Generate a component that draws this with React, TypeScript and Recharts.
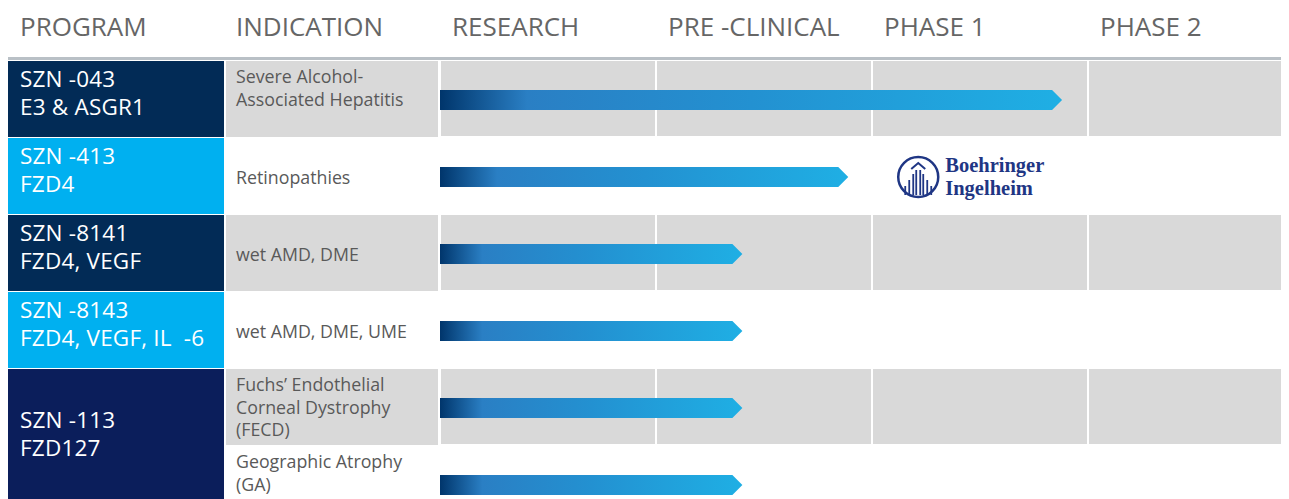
import { BarChart, Bar, XAxis, YAxis, Cell } from 'recharts'

const stages = ['RESEARCH', 'PRE -CLINICAL', 'PHASE 1', 'PHASE 2']
const stageSpan = [1, 1, 1, 1]
const programCodes = ['SZN -043', 'SZN -413', 'SZN -8141', 'SZN -8143', 'SZN -113', '']
const programTargets = ['E3 & ASGR1', 'FZD4', 'FZD4, VEGF', 'FZD4, VEGF, IL  -6', 'FZD127', '']
const programRowSpan = [1, 1, 1, 1, 2, 0]
const indications = [
  'Severe Alcohol-\nAssociated Hepatitis',
  'Retinopathies',
  'wet AMD, DME',
  'wet AMD, DME, UME',
  'Fuchs\u2019 Endothelial\nCorneal Dystrophy\n(FECD)',
  'Geographic Atrophy\n(GA)',
]
const progress = [2.88, 1.89, 1.4, 1.4, 1.4, 1.4]
const partners = ['', 'Boehringer Ingelheim', '', '', '', '']

// styling
const GRAY = '#d9d9d9'
const PROGRAM_FILL = ['#022b56', '#00b0f0', '#022b56', '#00b0f0', '#0b1e5b', '']
const BAND = 77
const FONT = '"Open Sans", sans-serif'

const data = indications.map((indication, i) => ({
  indication,
  s1: stageSpan[0],
  s2: stageSpan[1],
  s3: stageSpan[2],
  s4: stageSpan[3],
  progress: progress[i],
  partner: partners[i],
}))

function HeaderTick(props: any) {
  const { x, payload } = props
  return (
    <g>
      {payload.index === 0 && (
        <g>
          <line x1={0} x2={1296} y1={50.5} y2={50.5} stroke="#b9c0c6" strokeWidth={3} />
          <text x={12} y={18} fontSize={26} fill="#666" fontFamily={FONT} dominantBaseline="central">PROGRAM</text>
          <text x={228} y={18} fontSize={26} fill="#666" fontFamily={FONT} dominantBaseline="central">INDICATION</text>
        </g>
      )}
      <text x={x + 12} y={18} fontSize={26} fill="#666" fontFamily={FONT} dominantBaseline="central">
        {stages[payload.index]}
      </text>
    </g>
  )
}

function RowTick(props: any) {
  const { y, payload } = props
  const i = payload.index
  const top = y - BAND / 2
  const span = programRowSpan[i]
  const lines = indications[i].split('\n')
  const lh = 22.5
  const firstY = lines.length === 1 ? y : top + 15
  const boxH = span * BAND - 1
  const progLines = [programCodes[i], programTargets[i]]
  const progFirst = span === 1 ? top + 16.5 : top + 50
  return (
    <g>
      <rect x={218} y={top} width={212} height={BAND - 1} fill={i % 2 === 0 ? GRAY : '#fff'} />
      {span > 0 && (
        <g>
          <rect x={0} y={top} width={216} height={boxH} fill={PROGRAM_FILL[i]} />
          <text fontSize={22.5} letterSpacing={0.2} fill="#fff" fontFamily={FONT} dominantBaseline="central" style={{ whiteSpace: 'pre' }}>
            {progLines.map((t, k) => (
              <tspan key={k} x={12} y={progFirst + k * 28}>{t}</tspan>
            ))}
          </text>
        </g>
      )}
      <text fontSize={17.8} fill="#595959" fontFamily={FONT} dominantBaseline="central">
        {lines.map((t, k) => (
          <tspan key={k} x={228} y={firstY + k * lh}>{t}</tspan>
        ))}
      </text>
    </g>
  )
}

function Logo({ cx, cy, name }: { cx: number; cy: number; name: string }) {
  const [a, b] = name.split(' ')
  const c = '#1f3684'
  const bars = [
    { dx: -13, top: 9 }, { dx: -9, top: 3 }, { dx: -5, top: -3 },
    { dx: -2, top: -7 }, { dx: 2, top: -7 },
    { dx: 5, top: -3 }, { dx: 9, top: 3 }, { dx: 13, top: 9 },
  ]
  return (
    <g>
      <circle cx={cx} cy={cy} r={20} fill="none" stroke={c} strokeWidth={2.5} />
      <path d={`M ${cx - 7} ${cy - 8} L ${cx} ${cy - 14} L ${cx + 7} ${cy - 8}`} fill="none" stroke={c} strokeWidth={2} />
      {bars.map((bb, k) => (
        <line key={k} x1={cx + bb.dx} x2={cx + bb.dx} y1={cy + bb.top} y2={cy + 18} stroke={c} strokeWidth={1.8} />
      ))}
      <text fontSize={20.5} fontWeight="bold" fill={c} fontFamily='"Liberation Serif", serif' dominantBaseline="central">
        <tspan x={cx + 27} y={cy - 12}>{a}</tspan>
        <tspan x={cx + 27} y={cy + 11}>{b}</tspan>
      </text>
    </g>
  )
}

function ArrowBar(props: any) {
  const { x, y, width, height, index, payload } = props
  const tip = 10
  const id = `prog-grad-${index}`
  const d = `M ${x} ${y} H ${x + width - tip} L ${x + width} ${y + height / 2} L ${x + width - tip} ${y + height} H ${x} Z`
  return (
    <g>
      <defs>
        <linearGradient id={id} x1="0" y1="0" x2="1" y2="0">
          <stop offset="0" stopColor="#00356b" />
          <stop offset="0.14" stopColor="#2a7fc4" />
          <stop offset="0.5" stopColor="#2391d1" />
          <stop offset="1" stopColor="#1fafe4" />
        </linearGradient>
      </defs>
      <path d={d} fill={`url(#${id})`} />
      {payload && payload.partner && (
        <Logo cx={x + width + 70} cy={y + height / 2} name={payload.partner} />
      )}
    </g>
  )
}

// one stage cell of a row, white gap on its left and right
function StageCell(props: any) {
  const { x, y, width, height, fill } = props
  return <rect x={x + 1} y={y} width={Math.max(0, width - 2)} height={height - 1.5} fill={fill} />
}

export default function App() {
  return (
    <div style={{ width: 1281, height: 491, overflow: 'hidden', fontFamily: FONT }}>
      <BarChart
        width={1296}
        height={53 + BAND * indications.length}
        data={data}
        layout="vertical"
        barCategoryGap={0}
        barGap={0}
        margin={{ top: 0, right: 0, bottom: 0, left: 0 }}
      >
        <XAxis
          type="number"
          orientation="top"
          domain={[0, 4]}
          ticks={[0, 1, 2, 3]}
          height={53}
          axisLine={false}
          tickLine={false}
          tick={(p: any) => <HeaderTick {...p} />}
        />
        <YAxis
          yAxisId="main"
          type="category"
          dataKey="indication"
          width={432}
          axisLine={false}
          tickLine={false}
          interval={0}
          tick={(p: any) => <RowTick {...p} />}
        />
        <YAxis yAxisId="bg" type="category" dataKey="indication" width={0} hide />
        {['s1', 's2', 's3', 's4'].map((k) => (
          <Bar key={k} yAxisId="bg" dataKey={k} stackId="bg" barSize={BAND - 0.5} isAnimationActive={false}
            shape={(p: any) => <StageCell {...p} />}>
            {data.map((_, i) => (
              <Cell key={i} fill={i % 2 === 0 ? GRAY : '#fff'} />
            ))}
          </Bar>
        ))}
        <Bar yAxisId="main" dataKey="progress" barSize={20} isAnimationActive={false} shape={(p: any) => <ArrowBar {...p} />} />
      </BarChart>
    </div>
  )
}
